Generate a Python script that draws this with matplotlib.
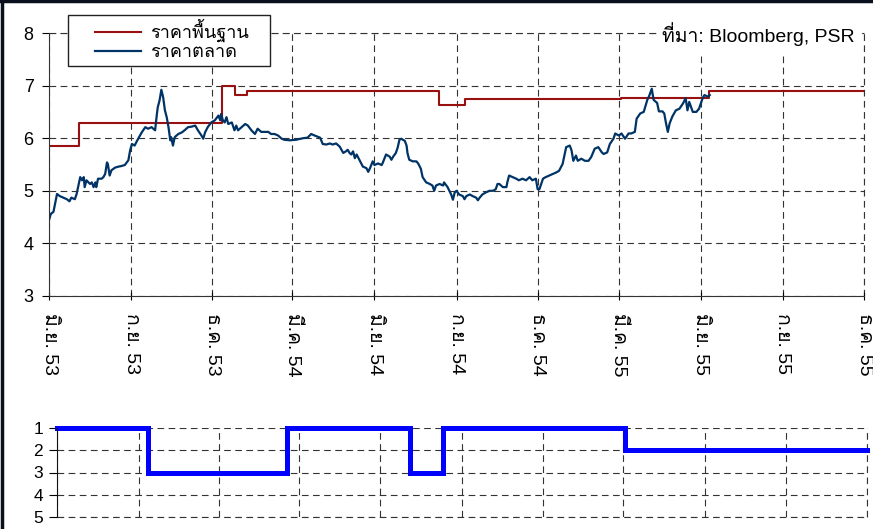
import pandas as pd
import matplotlib
matplotlib.use("Agg")
from matplotlib import pyplot as plt
from matplotlib.lines import Line2D
from matplotlib.patches import Rectangle

# Latin text in an Arial-like face, Thai falls through to Loma
plt.rcParams["font.family"] = ["Liberation Sans", "Loma", "DejaVu Sans"]

START = pd.Timestamp("2010-06-01")
END = pd.Timestamp("2012-12-01")

tick_dates = ["2010-06-01", "2010-09-01", "2010-12-01", "2011-03-01", "2011-06-01",
              "2011-09-01", "2011-12-01", "2012-03-01", "2012-06-01", "2012-09-01",
              "2012-12-01"]
tick_labels = ["มิ.ย. 53", "ก.ย. 53", "ธ.ค. 53", "มี.ค. 54", "มิ.ย. 54", "ก.ย. 54",
               "ธ.ค. 54", "มี.ค. 55", "มิ.ย. 55", "ก.ย. 55", "ธ.ค. 55"]

# fair price (step), days since 1 Jun 2010
fair_day = [0, 34, 194, 209, 222, 437, 466, 641, 740, 914]
fair_val = [5.85, 6.28, 7.00, 6.82, 6.89, 6.63, 6.75, 6.77, 6.90, 6.90]

# market price, days since 1 Jun 2010
mkt_day = [0, 2, 5, 9, 12, 16, 20, 23, 25, 29, 31, 35, 37, 39, 40, 42, 46, 48, 50, 52,
           53, 55, 59, 61, 63, 65, 66, 68, 70, 74, 78, 81, 85, 89, 91, 93, 96, 100, 104,
           108, 111, 115, 119, 121, 122, 124, 126, 128, 130, 132, 134, 136, 137, 139,
           141, 145, 149, 152, 156, 160, 164, 167, 171, 173, 175, 178, 182, 186, 190,
           192, 193, 195, 197, 199, 201, 205, 208, 210, 212, 216, 220, 223, 227, 231,
           234, 238, 242, 246, 249, 253, 257, 261, 264, 270, 277, 285, 290, 294, 298,
           304, 307, 311, 315, 318, 322, 326, 330, 333, 335, 337, 339, 341, 343, 345,
           348, 350, 352, 356, 358, 360, 363, 365, 369, 373, 374, 378, 382, 384, 386,
           389, 391, 393, 395, 399, 401, 402, 404, 408, 412, 414, 417, 419, 423, 427,
           430, 432, 434, 438, 442, 443, 447, 449, 451, 453, 455, 457, 460, 464, 466,
           468, 472, 475, 479, 481, 483, 486, 490, 494, 498, 501, 503, 505, 509, 513,
           514, 516, 520, 524, 527, 531, 535, 539, 542, 546, 548, 550, 554, 557, 561,
           565, 569, 572, 576, 580, 584, 586, 588, 591, 593, 597, 601, 605, 608, 612,
           616, 620, 622, 626, 629, 633, 635, 639, 642, 646, 650, 653, 657, 659, 663,
           667, 671, 673, 676, 678, 682, 684, 688, 690, 692, 694, 696, 699, 703, 707,
           711, 714, 716, 718, 722, 726, 729, 733, 735, 739, 741]
mkt_val = [4.44, 4.56, 4.60, 4.94, 4.90, 4.87, 4.84, 4.80, 4.87, 4.84, 4.94, 5.26, 5.20,
           5.26, 5.07, 5.20, 5.13, 5.16, 5.07, 5.16, 5.07, 5.23, 5.23, 5.26, 5.32, 5.54,
           5.51, 5.29, 5.39, 5.44, 5.46, 5.47, 5.49, 5.58, 5.77, 5.89, 5.86, 5.99, 6.11,
           6.21, 6.18, 6.21, 6.15, 6.46, 6.59, 6.72, 6.92, 6.78, 6.53, 6.40, 6.21, 5.96,
           6.02, 5.86, 6.02, 6.08, 6.11, 6.15, 6.21, 6.22, 6.24, 6.15, 6.05, 5.99, 6.11,
           6.21, 6.30, 6.34, 6.43, 6.34, 6.46, 6.34, 6.30, 6.40, 6.27, 6.30, 6.15, 6.24,
           6.15, 6.21, 6.27, 6.24, 6.15, 6.08, 6.18, 6.12, 6.12, 6.12, 6.08, 6.08, 6.05,
           5.99, 5.97, 5.96, 5.97, 6.00, 6.01, 6.08, 6.05, 6.01, 5.89, 5.88, 5.90, 5.88,
           5.90, 5.84, 5.72, 5.75, 5.78, 5.72, 5.69, 5.75, 5.62, 5.69, 5.59, 5.52, 5.46,
           5.43, 5.36, 5.43, 5.56, 5.49, 5.52, 5.49, 5.52, 5.69, 5.65, 5.59, 5.65, 5.72,
           5.82, 5.97, 5.99, 5.95, 5.86, 5.72, 5.59, 5.56, 5.56, 5.52, 5.42, 5.26, 5.16,
           5.13, 5.10, 5.00, 5.10, 5.13, 5.10, 5.16, 5.07, 5.00, 4.93, 4.83, 4.97, 5.00,
           4.93, 4.90, 4.84, 4.90, 4.93, 4.90, 4.87, 4.82, 4.87, 4.93, 4.97, 5.00, 5.00,
           5.03, 5.13, 5.13, 5.07, 5.07, 5.16, 5.29, 5.26, 5.23, 5.20, 5.23, 5.20, 5.26,
           5.20, 5.23, 5.03, 5.03, 5.23, 5.26, 5.29, 5.32, 5.35, 5.38, 5.51, 5.83, 5.86,
           5.77, 5.57, 5.67, 5.57, 5.61, 5.57, 5.57, 5.64, 5.80, 5.83, 5.73, 5.70, 5.73,
           5.89, 5.99, 6.09, 6.05, 6.09, 5.99, 6.09, 6.09, 6.12, 6.37, 6.47, 6.50, 6.73,
           6.80, 6.94, 6.73, 6.67, 6.51, 6.51, 6.47, 6.28, 6.12, 6.28, 6.41, 6.53, 6.56,
           6.66, 6.76, 6.53, 6.69, 6.50, 6.50, 6.56, 6.76, 6.82, 6.79, 6.82]

# recommendation level (1 = top), step changes
rec_day = [0, 103, 259, 398, 435, 641, 914]
rec_val = [1, 3, 1, 3, 1, 2, 2]


def to_dates(days):
    return START + pd.to_timedelta(days, unit="D")


GRID = dict(color="#333333", linestyle=(0, (6, 4)), linewidth=0.8)
W, H = 873, 529

fig = plt.figure(figsize=(W / 100, H / 100), dpi=100)

# top panel: prices
ax = fig.add_axes([49 / W, 1 - 296 / H, 815 / W, 263 / H])
ax.step(to_dates(fair_day), fair_val, where="post", color="#981010", lw=1.5,
        label="ราคาพื้นฐาน")
ax.plot(to_dates(mkt_day), mkt_val, color="#003366", lw=1.6, label="ราคาตลาด")
ax.set_xlim(START, END)
ax.set_ylim(3, 8)
ax.set_yticks([3, 4, 5, 6, 7, 8])
ax.set_xticks(pd.to_datetime(tick_dates))
ax.set_xticklabels(tick_labels, rotation=270, fontsize=14, va="top", ha="center")
ax.tick_params(axis="y", labelsize=13, direction="out", length=5, pad=6)
ax.tick_params(axis="x", direction="inout", length=6, pad=9)
ax.grid(True, **GRID)
for s in ("top", "right"):
    ax.spines[s].set_visible(False)
for s in ("left", "bottom"):
    ax.spines[s].set_color("#333333")
# grid lines at the top and right edge
ax.axhline(8, clip_on=False, zorder=0, **GRID)
ax.axvline(END, clip_on=False, zorder=0, **GRID)

# legend: entries placed without frame, frame drawn as its own box
ax.add_patch(Rectangle((68 / W, 1 - 66 / H), 202 / W, 51 / H,
                       transform=fig.transFigure, facecolor="white",
                       edgecolor="#222222", lw=1.0, zorder=6, clip_on=False))
leg = ax.legend(loc="upper left", bbox_to_anchor=(95 / W, 1 - 19 / H),
                bbox_transform=fig.transFigure, fontsize=13, frameon=False,
                handlelength=2.55, borderpad=0, labelspacing=0.12,
                handletextpad=0.5, borderaxespad=0)
leg.set_zorder(7)

fig.text(855 / W, 1 - 34 / H, "ที่มา: Bloomberg, PSR", ha="right", va="center",
         fontsize=14, backgroundcolor="white")

# bottom panel: recommendation
ax2 = fig.add_axes([57 / W, 1 - 517 / H, 810 / W, 89 / H])
ax2.step(to_dates(rec_day), rec_val, where="post", color="#0000ff", lw=3.6,
         clip_on=False, solid_joinstyle="miter")
ax2.set_xlim(START, END)
ax2.set_ylim(5, 1)
ax2.set_yticks([1, 2, 3, 4, 5])
ax2.set_xticks(pd.to_datetime(tick_dates))
ax2.set_xticklabels([])
ax2.tick_params(axis="x", length=0)
ax2.tick_params(axis="y", labelsize=12.5, direction="out", length=6, pad=4)
ax2.grid(True, **GRID)
for s in ("top", "right", "bottom"):
    ax2.spines[s].set_visible(False)
ax2.spines["left"].set_color("#111111")
ax2.axhline(5, clip_on=False, zorder=0, **GRID)
ax2.axvline(END, clip_on=False, zorder=0, **GRID)

# frame on top and left edge of the image
fig.add_artist(Line2D([0.002, 0.002], [0, 1], color="#0a0f1e", lw=2.5,
                      transform=fig.transFigure))
fig.add_artist(Line2D([0, 1], [0.998, 0.998], color="#0a0f1e", lw=2.5,
                      transform=fig.transFigure))

fig.savefig("out.png", dpi=100)
